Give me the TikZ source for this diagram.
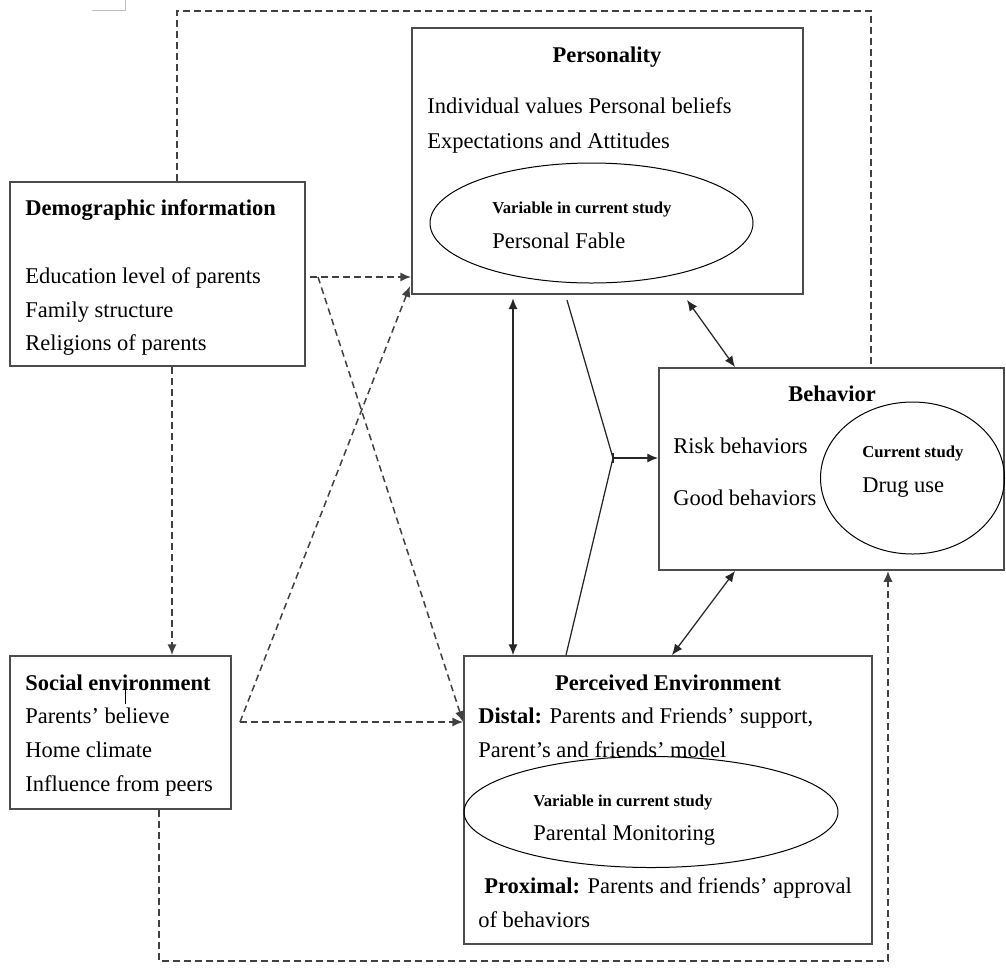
\documentclass[tikz,border=0pt]{standalone}
\usepackage{fontspec}
\setmainfont{Liberation Serif}
\usetikzlibrary{arrows.meta, positioning, fit}
\tikzset{
	>={Latex[length=6.5pt,width=5.5pt]}, % Puntas de flecha rellenas
	caja/.style={draw=black!70, line width=1.1pt, inner sep=0pt}, % Cajas de los bloques
	ovalo/.style={draw=black, line width=0.6pt}, % Elipses de las variables
	linea/.style={draw=black!85, line width=0.75pt}, % Conexiones continuas
	punteada/.style={draw=black!75, line width=0.9pt, dash pattern=on 4pt off 2.6pt}, % Conexiones punteadas
	texto/.style={anchor=base west, inner sep=0pt, font=\fontsize{13.5}{16}\selectfont}, % Texto normal
	titulo/.style={anchor=base, inner sep=0pt, font=\fontsize{13.5}{16}\selectfont\bfseries}, % Titulos centrados
	chico/.style={anchor=base west, inner sep=0pt, font=\fontsize{10}{12}\selectfont\bfseries} % Texto chico
}

\begin{document}
\begin{tikzpicture}[x=0.6pt, y=-0.6pt]
	\useasboundingbox (0,0) rectangle (1006,972);
	% cajas
	\node[caja, fit={(10,182) (305,366)}] (demo) {};
	\node[caja, fit={(412,28) (803,294)}] (pers) {};
	\node[caja, fit={(659,368) (1004,570)}] (beh) {};
	\node[caja, fit={(10,656) (231,809)}] (soc) {};
	\node[caja, fit={(464,656) (872,944)}] (perc) {};
	% elipses
	\draw[ovalo] (591.5,223) ellipse [x radius=161.5, y radius=60];
	\draw[ovalo] (912.5,478) ellipse [x radius=92, y radius=76];
	\draw[ovalo] (651,812) ellipse [x radius=187, y radius=55.5];
	% textos
	\node[texto] (demo1) at (25,215) {\textbf{Demographic information}};
	\node[texto] (demo2) at (25,283) {Education level of parents};
	\node[texto] (demo3) at (25,317) {Family structure};
	\node[texto] (demo4) at (25,350) {Religions of parents};
	\node[titulo] (pers1) at (607,62) {Personality};
	\node[texto] (pers2) at (427,113) {Individual values Personal beliefs};
	\node[texto] (pers3) at (427,148) {Expectations and Attitudes};
	\node[chico] (pers4) at (492,213) {Variable in current study};
	\node[texto] (pers5) at (492,248) {Personal Fable};
	\node[titulo] (beh1) at (832,401) {Behavior};
	\node[texto] (beh2) at (673,453) {Risk behaviors};
	\node[texto] (beh3) at (673,505) {Good behaviors};
	\node[chico] (beh4) at (862,457) {Current study};
	\node[texto] (beh5) at (862,492) {Drug use};
	\node[texto] (soc1) at (25,690) {\textbf{Social environment}};
	\node[texto] (soc2) at (25,723) {Parents’ believe};
	\node[texto] (soc3) at (25,757) {Home climate};
	\node[texto] (soc4) at (25,791) {Influence from peers};
	\node[titulo] (perc1) at (668,690) {Perceived Environment};
	\node[texto] (perc2) at (478,723) {\textbf{Distal:} Parents and Friends’ support,};
	\node[texto] (perc3) at (478,757) {Parent’s and friends’ model};
	\node[chico] (perc4) at (533,806) {Variable in current study};
	\node[texto] (perc5) at (533,840) {Parental Monitoring};
	\node[texto] (perc6) at (484,893) {\textbf{Proximal:} Parents and friends’ approval};
	\node[texto] (perc7) at (478,927) {of behaviors};
	\draw[line width=0.5pt] (125,682) -- (125,704);
	\draw[black!25, line width=0.6pt] (92,10) -- (125,10) -- (125,0);
	% puntos de paso
	\coordinate (arriba1) at (177,11);
	\coordinate (arriba2) at (871,11);
	\coordinate (abajo1) at (159,961);
	\coordinate (abajo2) at (888,961);
	\coordinate (d1) at (172,0);
	\coordinate (demoR) at (310,277);
	\coordinate (demoR2) at (318,277);
	\coordinate (socR) at (240,722);
	\coordinate (persSW) at (410,286);
	\coordinate (v1) at (513,0);
	\coordinate (b1) at (687,300);
	\coordinate (b2) at (735,0);
	\coordinate (b3) at (672,0);
	\coordinate (f1) at (567,300);
	\coordinate (f2) at (566,0);
	\coordinate (nudo) at (613,458);
	% conexiones punteadas
	\draw[punteada] (demo.north -| arriba1) -- (arriba1) -- (arriba2) -- (beh.north -| arriba2);
	\draw[punteada,->] (demo.south -| d1) -- (soc.north -| d1);
	\draw[punteada,->] (demoR) -- (pers.west |- demoR);
	\draw[punteada,->] (demoR2) -- (perc.west |- socR);
	\draw[punteada,->] (socR) -- (perc.west |- socR);
	\draw[punteada,->] (socR) -- (persSW);
	\draw[punteada,->] (soc.south -| abajo1) -- (abajo1) -- (abajo2) -- (beh.south -| abajo2);
	% conexiones continuas
	\draw[linea,<->] ([yshift=-2pt]pers.south -| v1) -- (perc.north -| v1);
	\draw[linea,<->] (b1) -- (beh.north -| b2);
	\draw[linea,<->] (beh.south -| b2) -- (perc.north -| b3);
	\draw[linea] (f1) -- (nudo) -- (perc.north -| f2);
	\draw[linea,->] (nudo) -- (beh.west |- nudo);
	\draw[linea] ([yshift=3pt]nudo) -- ([yshift=-3pt]nudo);
\end{tikzpicture}
\end{document}
